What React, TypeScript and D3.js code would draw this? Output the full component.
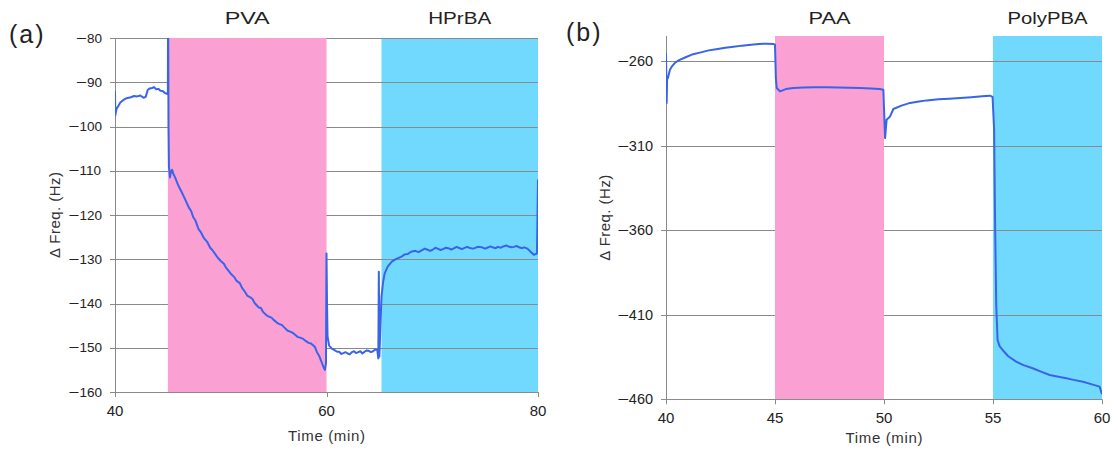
import React from "react";
import * as d3 from "d3";

// ---------- data ----------
const timeA = [40.0, 40.03, 40.08, 40.15, 40.3, 40.5, 40.8, 41.1, 41.5, 41.8, 42.1, 42.4, 42.7, 42.9, 43.1, 43.3, 43.5, 43.7, 43.9, 44.1, 44.3, 44.5, 44.7, 44.9, 45.0, 45.02, 45.06, 45.1, 45.2, 45.3, 45.4, 45.5, 45.7, 46.0, 46.3, 46.6, 47.0, 47.2, 47.4, 47.6, 47.9, 48.1, 48.4, 48.7, 49.0, 49.2, 49.5, 49.7, 50.0, 50.3, 50.5, 50.8, 51.0, 51.3, 51.5, 51.8, 52.0, 52.3, 52.5, 52.8, 53.0, 53.2, 53.6, 53.8, 54.0, 54.3, 54.5, 54.8, 55.0, 55.3, 55.5, 55.8, 56.0, 56.3, 56.5, 56.8, 57.0, 57.3, 57.5, 57.8, 58.0, 58.3, 58.5, 58.7, 58.9, 59.1, 59.3, 59.5, 59.7, 59.85, 59.95, 60.0, 60.05, 60.1, 60.25, 60.5, 60.8, 61.0, 61.2, 61.4, 61.6, 61.8, 62.0, 62.2, 62.4, 62.6, 62.8, 63.0, 63.2, 63.4, 63.6, 63.8, 64.0, 64.2, 64.4, 64.6, 64.8, 64.9, 64.95, 65.0, 65.1, 65.2, 65.35, 65.5, 65.8, 66.2, 66.6, 67.1, 67.4, 67.7, 68.0, 68.4, 68.7, 69.0, 69.3, 69.5, 69.8, 70.0, 70.3, 70.5, 70.8, 71.0, 71.3, 71.5, 71.8, 72.0, 72.3, 72.5, 72.8, 73.0, 73.3, 73.5, 73.8, 74.0, 74.3, 74.7, 75.0, 75.2, 75.5, 75.7, 76.0, 76.2, 76.5, 76.7, 77.0, 77.2, 77.5, 77.7, 78.0, 78.2, 78.5, 78.7, 79.0, 79.3, 79.6, 79.9, 80.0];
const freqA = [-92.0, -97.5, -96.8, -96.0, -95.4, -94.6, -94.0, -93.6, -93.4, -93.1, -93.2, -93.0, -93.5, -93.3, -91.7, -91.4, -91.3, -91.1, -91.6, -91.5, -91.9, -92.0, -92.4, -92.6, -92.7, -70, -100, -109, -111.5, -110.2, -109.8, -110.6, -111.6, -113.4, -114.8, -116.3, -118.4, -119.1, -120.5, -121.2, -123.2, -123.8, -125.2, -126.0, -127.4, -127.9, -128.9, -129.6, -130.4, -131.0, -131.9, -132.8, -133.4, -134.1, -134.9, -135.4, -136.4, -137.4, -138.2, -138.6, -139.0, -139.9, -140.9, -141.0, -141.9, -142.6, -142.9, -143.2, -143.7, -144.3, -144.6, -144.9, -145.4, -146.1, -146.3, -146.6, -147.0, -147.6, -147.7, -148.0, -148.4, -148.9, -149.0, -149.4, -149.8, -151.0, -151.8, -153.0, -154.3, -155.0, -153.5, -128.7, -140, -147.5, -149.5, -150.2, -150.6, -150.9, -150.9, -151.4, -151.2, -151.0, -151.3, -151.5, -151.0, -150.8, -151.2, -151.0, -150.8, -151.3, -150.9, -150.6, -150.7, -151.0, -150.8, -150.4, -150.5, -152.4, -132.8, -152.0, -145, -138.5, -135.2, -133.2, -131.6, -130.5, -129.9, -129.4, -128.9, -128.8, -128.3, -128.1, -128.4, -128.0, -127.6, -127.8, -128.1, -127.9, -127.4, -127.6, -127.9, -127.7, -127.4, -127.5, -127.8, -127.6, -127.2, -127.4, -127.7, -127.5, -127.2, -127.4, -127.6, -127.5, -127.2, -127.3, -127.6, -127.4, -127.1, -127.3, -127.5, -127.2, -127.4, -127.1, -126.9, -127.1, -127.3, -127.2, -127.0, -127.3, -127.5, -127.3, -127.6, -128.3, -129.0, -128.7, -112];

const timeB = [40.0, 40.03, 40.05, 40.1, 40.18, 40.27, 40.4, 40.58, 40.9, 41.19, 41.6, 41.96, 42.3, 42.72, 43.1, 43.49, 43.9, 44.25, 44.6, 44.94, 45.0, 45.04, 45.08, 45.23, 45.5, 45.84, 46.3, 46.8, 47.37, 47.9, 48.4, 48.9, 49.4, 49.8, 49.97, 50.05, 50.12, 50.28, 50.43, 50.8, 51.2, 51.6, 51.96, 52.5, 53.0, 53.49, 54.0, 54.5, 54.86, 54.98, 55.05, 55.1, 55.15, 55.21, 55.3, 55.44, 55.7, 56.06, 56.4, 56.82, 57.2, 57.6, 58.0, 58.36, 58.7, 59.13, 59.5, 59.89, 60.0];
const freqB = [-255, -284.6, -270.8, -269.3, -265, -263, -261, -259.4, -257.6, -256, -254.7, -253.5, -252.8, -252, -251.3, -250.7, -250.2, -249.7, -249.6, -249.8, -250.1, -270, -275.8, -277.8, -276.4, -275.8, -275.5, -275.3, -275.4, -275.5, -275.6, -275.8, -276.0, -276.4, -276.8, -305.4, -294.5, -292.6, -288.2, -286.2, -284.6, -283.8, -283.1, -282.5, -282.1, -281.7, -281.2, -280.7, -280.3, -281, -300, -360, -405, -424.9, -428.5, -430.8, -434.5, -437.7, -439.8, -441.6, -443.6, -445.6, -446.6, -447.6, -448.5, -449.6, -451.0, -452.5, -457];

const PINK = "#FAA0D3";
const CYAN = "#70D9FD";

const bandNamesA = ["PVA", "HPrBA"];
const bandStartA = [45, 65.2];
const bandEndA = [60, 80];
const bandNamesB = ["PAA", "PolyPBA"];
const bandStartB = [45, 55];
const bandEndB = [50, 60];

const yTicksA = [-80, -90, -100, -110, -120, -130, -140, -150, -160];
const xTicksA = [40, 60, 80];
const yTicksB = [-260, -310, -360, -410, -460];
const xTicksB = [40, 45, 50, 55, 60];

const FONT = "'Liberation Sans', Arial, sans-serif";
const LINE = "#3a64e8";
const GRID = "#8a8a8a";

type Band = { name: string; start: number; end: number; color: string; titleW: number };

type PanelProps = {
  id: string;
  label: string;
  times: number[];
  freqs: number[];
  bands: Band[];
  xDomain: [number, number];
  yDomain: [number, number];
  xRange: [number, number];
  yRange: [number, number];
  yTicks: number[];
  xTicks: number[];
  labelPos: [number, number];
  yTitleX: number;
  xTickY: number;
  xTitleY: number;
  yTickSize: number;
};

function TickLabel(props: { v: number; x: number; y: number; size: number; anchor: string; dy?: string }) {
  const { v, x, y, size, anchor, dy } = props;
  const digits = String(Math.abs(v));
  const digitsW = digits.length * 0.556 * size;
  const minusW = v < 0 ? 0.8 * size : 0;
  const total = digitsW + minusW;
  const startX = anchor === "end" ? x - total : x - total / 2;
  return (
    <text x={startX} y={y} dy={dy} fontSize={size} fill="#222" fontFamily={FONT}>
      {v < 0 ? (
        <tspan textLength={minusW} lengthAdjust="spacingAndGlyphs">
          {"\u2212"}
        </tspan>
      ) : null}
      <tspan>{digits}</tspan>
    </text>
  );
}

function Panel(p: PanelProps) {
  const x = d3.scaleLinear().domain(p.xDomain).range(p.xRange);
  const y = d3.scaleLinear().domain(p.yDomain).range(p.yRange);
  const pts = p.times.map((t, i) => [t, p.freqs[i]] as [number, number]);
  const line = d3
    .line<[number, number]>()
    .x((d) => x(d[0]))
    .y((d) => y(d[1]));
  const top = Math.min(...p.yRange);
  const bottom = Math.max(...p.yRange);
  const left = p.xRange[0];
  const right = p.xRange[1];
  const cyan = p.bands.filter((b) => b.color === CYAN);
  const pink = p.bands.filter((b) => b.color !== CYAN);
  return (
    <g>
      <defs>
        <clipPath id={"clip" + p.id}>
          <rect x={left} y={top} width={right - left} height={bottom - top} />
        </clipPath>
      </defs>
      {cyan.map((b) => (
        <rect key={b.name} x={x(b.start)} y={top} width={x(b.end) - x(b.start)} height={bottom - top} fill={b.color} />
      ))}
      {p.yTicks.map((t) => (
        <line key={t} x1={left - 5} x2={right} y1={Math.round(y(t)) + 0.5} y2={Math.round(y(t)) + 0.5} stroke={GRID} strokeWidth={1} />
      ))}
      {pink.map((b) => (
        <rect key={b.name} x={x(b.start)} y={top} width={x(b.end) - x(b.start)} height={bottom - top} fill={b.color} />
      ))}
      {p.bands.map((b) => (
        <text
          key={"t" + b.name}
          x={(x(b.start) + x(b.end)) / 2 - b.titleW / 2}
          y={24}
          fontSize={16}
          fill="#222"
          fontFamily={FONT}
          textLength={b.titleW}
          lengthAdjust="spacingAndGlyphs"
        >
          {b.name}
        </text>
      ))}
      <line x1={left + 0.5} x2={left + 0.5} y1={top} y2={bottom} stroke={GRID} strokeWidth={1} />
      <line x1={left} x2={right} y1={Math.round(bottom) + 0.5} y2={Math.round(bottom) + 0.5} stroke={GRID} strokeWidth={1} />
      {p.xTicks.map((t) => (
        <line key={"xt" + t} x1={Math.round(x(t)) + 0.5} x2={Math.round(x(t)) + 0.5} y1={bottom} y2={bottom + 5} stroke={GRID} strokeWidth={1} />
      ))}
      <path d={line(pts) || ""} fill="none" stroke={LINE} strokeWidth={2} strokeLinejoin="round" clipPath={`url(#clip${p.id})`} />
      {p.yTicks.map((t) => (
        <TickLabel key={"yl" + t} v={t} x={left - 13} y={y(t)} dy="0.35em" size={p.yTickSize} anchor="end" />
      ))}
      {p.xTicks.map((t) => (
        <TickLabel key={"xl" + t} v={t} x={x(t)} y={p.xTickY} size={15} anchor="middle" />
      ))}
      <text
        x={(left + right) / 2 - 38.5}
        y={p.xTitleY}
        fontSize={15}
        fill="#333"
        fontFamily={FONT}
        textLength={77}
        lengthAdjust="spacing"
      >
        Time (min)
      </text>
      <text
        transform={`translate(${p.yTitleX},${(top + bottom) / 2}) rotate(-90)`}
        x={-43}
        dy="0.35em"
        fontSize={15}
        fill="#333"
        fontFamily={FONT}
        textLength={86}
        lengthAdjust="spacing"
      >
        Δ Freq. (Hz)
      </text>
      <text x={p.labelPos[0]} y={p.labelPos[1]} fontSize={25} fill="#222" fontFamily={FONT} letterSpacing={2}>
        {p.label}
      </text>
    </g>
  );
}

const bandsA: Band[] = bandNamesA.map((n, i) => ({
  name: n,
  start: bandStartA[i],
  end: bandEndA[i],
  color: i === 0 ? PINK : CYAN,
  titleW: i === 0 ? 45 : 63,
}));
const bandsB: Band[] = bandNamesB.map((n, i) => ({
  name: n,
  start: bandStartB[i],
  end: bandEndB[i],
  color: i === 0 ? PINK : CYAN,
  titleW: i === 0 ? 42 : 80,
}));

export default function App() {
  return (
    <svg width={1118} height={456} style={{ position: "absolute", left: 0, top: 0, background: "#fff" }}>
      <rect width={1118} height={456} fill="#fff" />
      <Panel
        id="a"
        label="(a)"
        times={timeA}
        freqs={freqA}
        bands={bandsA}
        xDomain={[40, 80]}
        yDomain={[-160, -80]}
        xRange={[115, 538]}
        yRange={[392, 38]}
        yTicks={yTicksA}
        xTicks={xTicksA}
        labelPos={[9, 43]}
        yTitleX={55}
        xTickY={416}
        xTitleY={441}
        yTickSize={13.5}
      />
      <Panel
        id="b"
        label="(b)"
        times={timeB}
        freqs={freqB}
        bands={bandsB}
        xDomain={[40, 60]}
        yDomain={[-460, -245]}
        xRange={[666, 1102]}
        yRange={[399.3, 36]}
        yTicks={yTicksB}
        xTicks={xTicksB}
        labelPos={[566, 41]}
        yTitleX={605}
        xTickY={423}
        xTitleY={443}
        yTickSize={14.5}
      />
    </svg>
  );
}
